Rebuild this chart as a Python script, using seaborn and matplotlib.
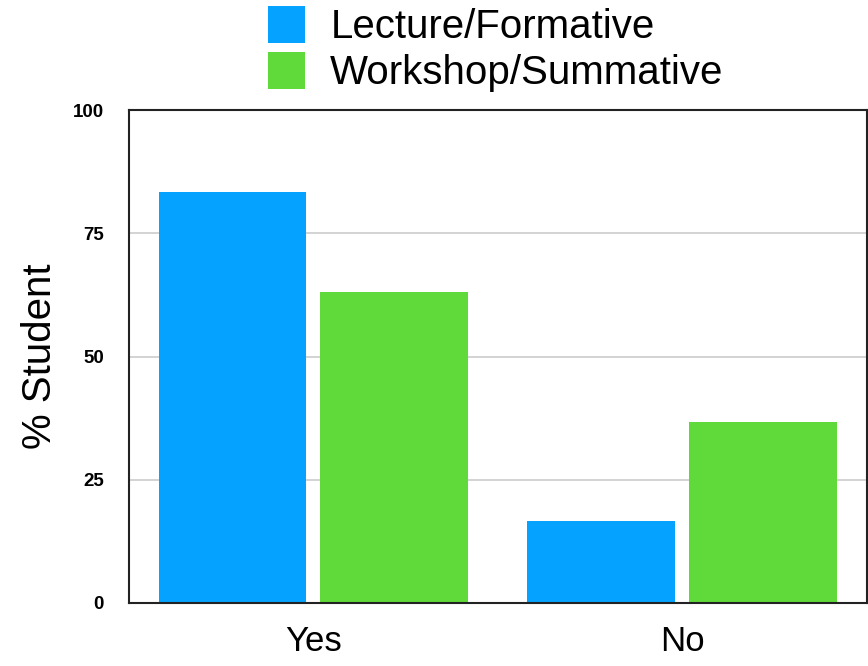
import pandas as pd
import matplotlib
matplotlib.use("Agg")
import matplotlib.pyplot as plt
import seaborn as sns

# 数据
responses = ["Yes", "No"]
groups = ["Lecture/Formative", "Workshop/Summative"]
lecture_pct = [83.3, 16.7]
workshop_pct = [63.0, 36.7]
colors = ["#05A3FF", "#60D93A"]
y_ticks = [0, 25, 50, 75, 100]

df = pd.DataFrame({
    "response": responses * 2,
    "group": [groups[0]] * 2 + [groups[1]] * 2,
    "pct": lecture_pct + workshop_pct,
})

sns.set_theme(style="white")
plt.rcParams["font.family"] = ["Liberation Sans", "DejaVu Sans"]
plt.rcParams["text.color"] = "black"
plt.rcParams["axes.labelcolor"] = "black"
plt.rcParams["xtick.color"] = "black"
plt.rcParams["ytick.color"] = "black"

fig = plt.figure(figsize=(8.68, 6.66), dpi=100)
ax = fig.add_axes([0.1486, 0.0946, 0.850, 0.7402])

sns.barplot(data=df, x="response", y="pct", hue="group", order=responses,
            hue_order=groups, palette=colors, width=0.878, gap=0.087,
            errorbar=None, linewidth=0, saturation=1, ax=ax)

ax.set_ylim(0, 100)
ax.set_yticks(y_ticks)
ax.set_yticklabels([str(t) for t in y_ticks], fontsize=13.5, fontweight="bold")
ax.tick_params(axis="y", length=0, pad=18)
ax.tick_params(axis="x", length=0, labelsize=25, pad=15.5)
ax.set_xlabel("")
ax.set_ylabel("% Student", fontsize=29, labelpad=10)
ax.yaxis.grid(True, color="#cccccc", linewidth=1.2)
ax.set_axisbelow(True)
for s in ax.spines.values():
    s.set_color("#222222")
    s.set_linewidth(1.5)

handles, labels = ax.get_legend_handles_labels()
ax.get_legend().remove()
fig.legend(handles, labels, loc="upper center", bbox_to_anchor=(496 / 868, 1 - 6 / 666),
           frameon=False, fontsize=29, handlelength=0.92, handleheight=1.03,
           handletextpad=0.62, labelspacing=0.15, borderpad=0, borderaxespad=0)

fig.savefig("out.png", dpi=100)
